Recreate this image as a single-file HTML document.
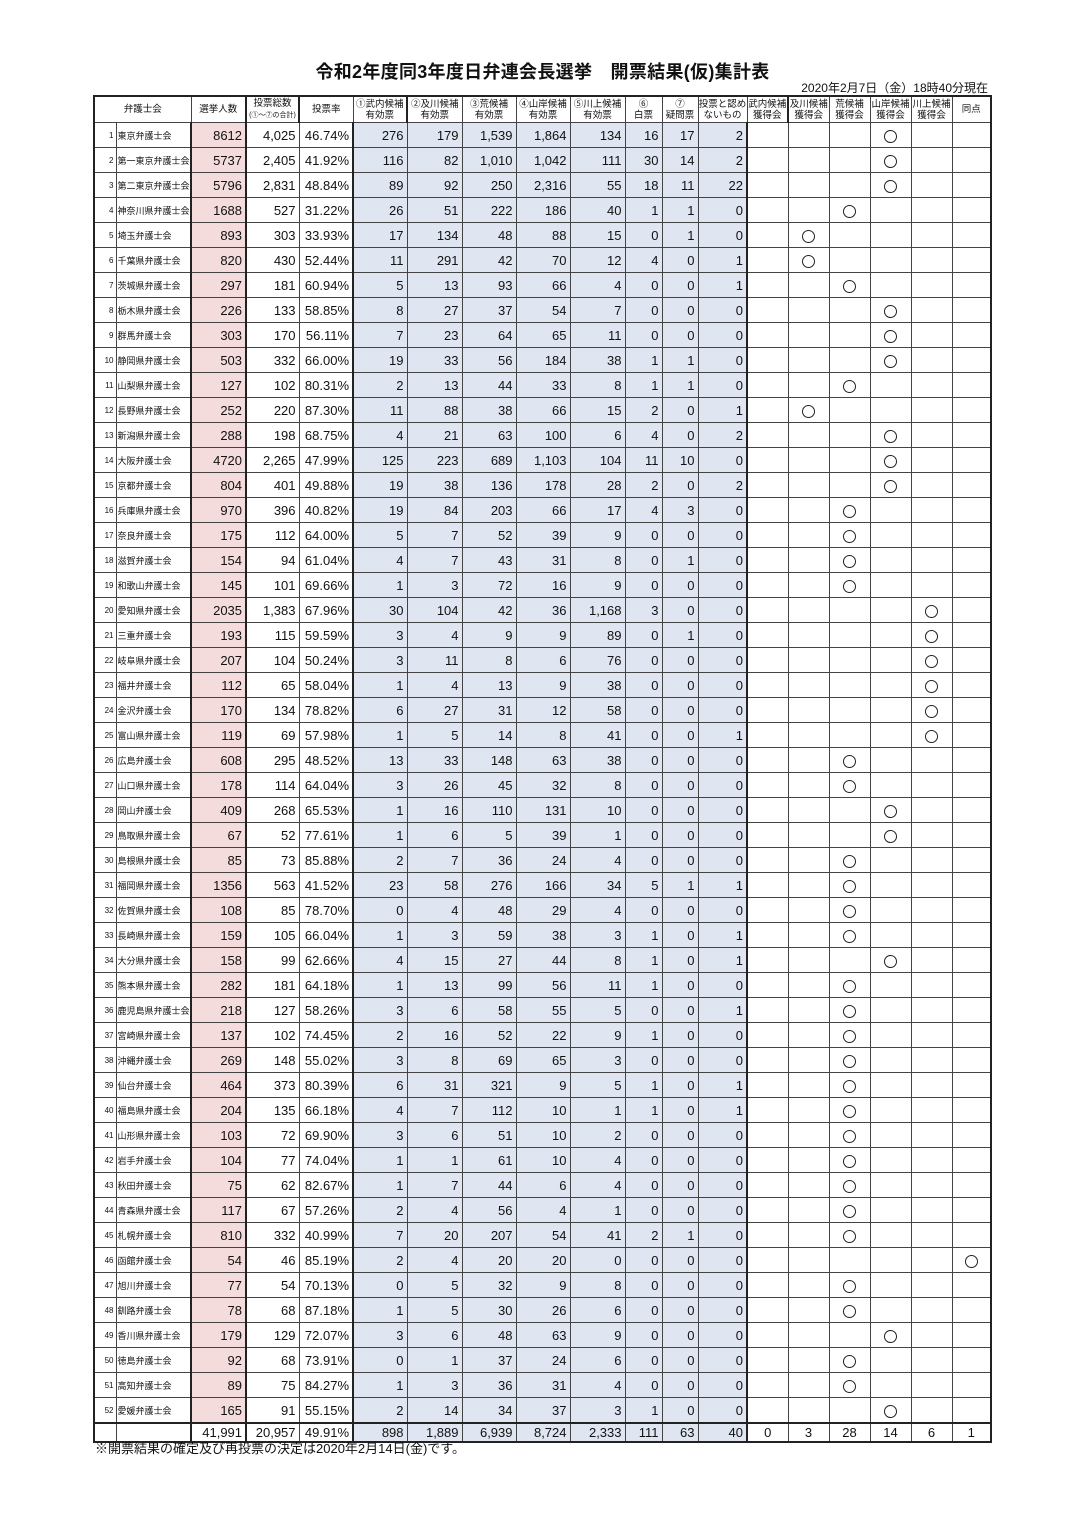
<!DOCTYPE html>
<html><head><meta charset="utf-8">
<style>
body{margin:0;background:#fff;width:1085px;height:1536px;position:relative;font-family:"Liberation Sans","Noto Sans CJK JP",sans-serif;color:#111;}
.title{position:absolute;left:0;width:1085px;top:58px;text-align:center;font-size:18px;font-weight:bold;letter-spacing:0.3px;}
.date{position:absolute;right:97px;top:79px;font-size:12px;}
.foot{position:absolute;left:95px;top:1438px;font-size:13px;}
table{position:absolute;left:93px;top:95px;border-collapse:collapse;table-layout:fixed;width:898px;border:2px solid #222;}
td{border:1px solid #444;height:24px;padding:0 3px;font-size:13px;text-align:right;white-space:nowrap;overflow:hidden;}
tr.h td{height:25px;font-size:9.5px;text-align:center;line-height:11px;padding:0;}
td:nth-child(1){font-size:8px;padding:0 2px 0 0;border-right:none;}
td:nth-child(2){font-size:9px;text-align:left;padding-left:1px;}
tr.h td:nth-child(1){text-align:center;font-size:9.5px;}
td:nth-child(3){background:#f4dcdc;border-left:2px solid #222;border-right:2px solid #222;}
td:nth-child(5){border-right:2px solid #222;}
td:nth-child(n+6):nth-child(-n+13){background:#dfe5f1;}
td:nth-child(13){border-right:2px solid #222;}
td:nth-child(n+14){text-align:center;}
tr.h td{background:#fff !important;}
tr.t td{height:17px;background:#fff;}
i{display:inline-block;width:11px;height:11px;border:1.4px solid #222;border-radius:50%;vertical-align:middle;}
</style></head><body>
<div class="title">令和2年度同3年度日弁連会長選挙　開票結果(仮)集計表</div>
<div class="date">2020年2月7日（金）18時40分現在</div>
<table>
<colgroup><col style="width:22px"><col style="width:75px"><col style="width:55px"><col style="width:53px"><col style="width:54px"><col style="width:54px"><col style="width:55px"><col style="width:54px"><col style="width:54px"><col style="width:55px"><col style="width:37px"><col style="width:36px"><col style="width:49px"><col style="width:41px"><col style="width:41px"><col style="width:41px"><col style="width:41px"><col style="width:41px"><col style="width:39px"></colgroup>
<tr class="h"><td colspan="2" style="text-align:center;border-right:1px solid #444">弁護士会</td><td>選挙人数</td><td>投票総数<br><span style="font-size:7px">(①～⑦の合計)</span></td><td>投票率</td><td>①武内候補<br>有効票</td><td>②及川候補<br>有効票</td><td>③荒候補<br>有効票</td><td>④山岸候補<br>有効票</td><td>⑤川上候補<br>有効票</td><td>⑥<br>白票</td><td>⑦<br>疑問票</td><td>投票と認め<br>ないもの</td><td>武内候補<br>獲得会</td><td>及川候補<br>獲得会</td><td>荒候補<br>獲得会</td><td>山岸候補<br>獲得会</td><td>川上候補<br>獲得会</td><td>同点</td></tr>
<tr><td>1<td>東京弁護士会<td>8612<td>4,025<td>46.74%<td>276<td>179<td>1,539<td>1,864<td>134<td>16<td>17<td>2<td><td><td><td><i></i><td><td></tr>
<tr><td>2<td>第一東京弁護士会<td>5737<td>2,405<td>41.92%<td>116<td>82<td>1,010<td>1,042<td>111<td>30<td>14<td>2<td><td><td><td><i></i><td><td></tr>
<tr><td>3<td>第二東京弁護士会<td>5796<td>2,831<td>48.84%<td>89<td>92<td>250<td>2,316<td>55<td>18<td>11<td>22<td><td><td><td><i></i><td><td></tr>
<tr><td>4<td>神奈川県弁護士会<td>1688<td>527<td>31.22%<td>26<td>51<td>222<td>186<td>40<td>1<td>1<td>0<td><td><td><i></i><td><td><td></tr>
<tr><td>5<td>埼玉弁護士会<td>893<td>303<td>33.93%<td>17<td>134<td>48<td>88<td>15<td>0<td>1<td>0<td><td><i></i><td><td><td><td></tr>
<tr><td>6<td>千葉県弁護士会<td>820<td>430<td>52.44%<td>11<td>291<td>42<td>70<td>12<td>4<td>0<td>1<td><td><i></i><td><td><td><td></tr>
<tr><td>7<td>茨城県弁護士会<td>297<td>181<td>60.94%<td>5<td>13<td>93<td>66<td>4<td>0<td>0<td>1<td><td><td><i></i><td><td><td></tr>
<tr><td>8<td>栃木県弁護士会<td>226<td>133<td>58.85%<td>8<td>27<td>37<td>54<td>7<td>0<td>0<td>0<td><td><td><td><i></i><td><td></tr>
<tr><td>9<td>群馬弁護士会<td>303<td>170<td>56.11%<td>7<td>23<td>64<td>65<td>11<td>0<td>0<td>0<td><td><td><td><i></i><td><td></tr>
<tr><td>10<td>静岡県弁護士会<td>503<td>332<td>66.00%<td>19<td>33<td>56<td>184<td>38<td>1<td>1<td>0<td><td><td><td><i></i><td><td></tr>
<tr><td>11<td>山梨県弁護士会<td>127<td>102<td>80.31%<td>2<td>13<td>44<td>33<td>8<td>1<td>1<td>0<td><td><td><i></i><td><td><td></tr>
<tr><td>12<td>長野県弁護士会<td>252<td>220<td>87.30%<td>11<td>88<td>38<td>66<td>15<td>2<td>0<td>1<td><td><i></i><td><td><td><td></tr>
<tr><td>13<td>新潟県弁護士会<td>288<td>198<td>68.75%<td>4<td>21<td>63<td>100<td>6<td>4<td>0<td>2<td><td><td><td><i></i><td><td></tr>
<tr><td>14<td>大阪弁護士会<td>4720<td>2,265<td>47.99%<td>125<td>223<td>689<td>1,103<td>104<td>11<td>10<td>0<td><td><td><td><i></i><td><td></tr>
<tr><td>15<td>京都弁護士会<td>804<td>401<td>49.88%<td>19<td>38<td>136<td>178<td>28<td>2<td>0<td>2<td><td><td><td><i></i><td><td></tr>
<tr><td>16<td>兵庫県弁護士会<td>970<td>396<td>40.82%<td>19<td>84<td>203<td>66<td>17<td>4<td>3<td>0<td><td><td><i></i><td><td><td></tr>
<tr><td>17<td>奈良弁護士会<td>175<td>112<td>64.00%<td>5<td>7<td>52<td>39<td>9<td>0<td>0<td>0<td><td><td><i></i><td><td><td></tr>
<tr><td>18<td>滋賀弁護士会<td>154<td>94<td>61.04%<td>4<td>7<td>43<td>31<td>8<td>0<td>1<td>0<td><td><td><i></i><td><td><td></tr>
<tr><td>19<td>和歌山弁護士会<td>145<td>101<td>69.66%<td>1<td>3<td>72<td>16<td>9<td>0<td>0<td>0<td><td><td><i></i><td><td><td></tr>
<tr><td>20<td>愛知県弁護士会<td>2035<td>1,383<td>67.96%<td>30<td>104<td>42<td>36<td>1,168<td>3<td>0<td>0<td><td><td><td><td><i></i><td></tr>
<tr><td>21<td>三重弁護士会<td>193<td>115<td>59.59%<td>3<td>4<td>9<td>9<td>89<td>0<td>1<td>0<td><td><td><td><td><i></i><td></tr>
<tr><td>22<td>岐阜県弁護士会<td>207<td>104<td>50.24%<td>3<td>11<td>8<td>6<td>76<td>0<td>0<td>0<td><td><td><td><td><i></i><td></tr>
<tr><td>23<td>福井弁護士会<td>112<td>65<td>58.04%<td>1<td>4<td>13<td>9<td>38<td>0<td>0<td>0<td><td><td><td><td><i></i><td></tr>
<tr><td>24<td>金沢弁護士会<td>170<td>134<td>78.82%<td>6<td>27<td>31<td>12<td>58<td>0<td>0<td>0<td><td><td><td><td><i></i><td></tr>
<tr><td>25<td>富山県弁護士会<td>119<td>69<td>57.98%<td>1<td>5<td>14<td>8<td>41<td>0<td>0<td>1<td><td><td><td><td><i></i><td></tr>
<tr><td>26<td>広島弁護士会<td>608<td>295<td>48.52%<td>13<td>33<td>148<td>63<td>38<td>0<td>0<td>0<td><td><td><i></i><td><td><td></tr>
<tr><td>27<td>山口県弁護士会<td>178<td>114<td>64.04%<td>3<td>26<td>45<td>32<td>8<td>0<td>0<td>0<td><td><td><i></i><td><td><td></tr>
<tr><td>28<td>岡山弁護士会<td>409<td>268<td>65.53%<td>1<td>16<td>110<td>131<td>10<td>0<td>0<td>0<td><td><td><td><i></i><td><td></tr>
<tr><td>29<td>鳥取県弁護士会<td>67<td>52<td>77.61%<td>1<td>6<td>5<td>39<td>1<td>0<td>0<td>0<td><td><td><td><i></i><td><td></tr>
<tr><td>30<td>島根県弁護士会<td>85<td>73<td>85.88%<td>2<td>7<td>36<td>24<td>4<td>0<td>0<td>0<td><td><td><i></i><td><td><td></tr>
<tr><td>31<td>福岡県弁護士会<td>1356<td>563<td>41.52%<td>23<td>58<td>276<td>166<td>34<td>5<td>1<td>1<td><td><td><i></i><td><td><td></tr>
<tr><td>32<td>佐賀県弁護士会<td>108<td>85<td>78.70%<td>0<td>4<td>48<td>29<td>4<td>0<td>0<td>0<td><td><td><i></i><td><td><td></tr>
<tr><td>33<td>長崎県弁護士会<td>159<td>105<td>66.04%<td>1<td>3<td>59<td>38<td>3<td>1<td>0<td>1<td><td><td><i></i><td><td><td></tr>
<tr><td>34<td>大分県弁護士会<td>158<td>99<td>62.66%<td>4<td>15<td>27<td>44<td>8<td>1<td>0<td>1<td><td><td><td><i></i><td><td></tr>
<tr><td>35<td>熊本県弁護士会<td>282<td>181<td>64.18%<td>1<td>13<td>99<td>56<td>11<td>1<td>0<td>0<td><td><td><i></i><td><td><td></tr>
<tr><td>36<td>鹿児島県弁護士会<td>218<td>127<td>58.26%<td>3<td>6<td>58<td>55<td>5<td>0<td>0<td>1<td><td><td><i></i><td><td><td></tr>
<tr><td>37<td>宮崎県弁護士会<td>137<td>102<td>74.45%<td>2<td>16<td>52<td>22<td>9<td>1<td>0<td>0<td><td><td><i></i><td><td><td></tr>
<tr><td>38<td>沖縄弁護士会<td>269<td>148<td>55.02%<td>3<td>8<td>69<td>65<td>3<td>0<td>0<td>0<td><td><td><i></i><td><td><td></tr>
<tr><td>39<td>仙台弁護士会<td>464<td>373<td>80.39%<td>6<td>31<td>321<td>9<td>5<td>1<td>0<td>1<td><td><td><i></i><td><td><td></tr>
<tr><td>40<td>福島県弁護士会<td>204<td>135<td>66.18%<td>4<td>7<td>112<td>10<td>1<td>1<td>0<td>1<td><td><td><i></i><td><td><td></tr>
<tr><td>41<td>山形県弁護士会<td>103<td>72<td>69.90%<td>3<td>6<td>51<td>10<td>2<td>0<td>0<td>0<td><td><td><i></i><td><td><td></tr>
<tr><td>42<td>岩手弁護士会<td>104<td>77<td>74.04%<td>1<td>1<td>61<td>10<td>4<td>0<td>0<td>0<td><td><td><i></i><td><td><td></tr>
<tr><td>43<td>秋田弁護士会<td>75<td>62<td>82.67%<td>1<td>7<td>44<td>6<td>4<td>0<td>0<td>0<td><td><td><i></i><td><td><td></tr>
<tr><td>44<td>青森県弁護士会<td>117<td>67<td>57.26%<td>2<td>4<td>56<td>4<td>1<td>0<td>0<td>0<td><td><td><i></i><td><td><td></tr>
<tr><td>45<td>札幌弁護士会<td>810<td>332<td>40.99%<td>7<td>20<td>207<td>54<td>41<td>2<td>1<td>0<td><td><td><i></i><td><td><td></tr>
<tr><td>46<td>函館弁護士会<td>54<td>46<td>85.19%<td>2<td>4<td>20<td>20<td>0<td>0<td>0<td>0<td><td><td><td><td><td><i></i></tr>
<tr><td>47<td>旭川弁護士会<td>77<td>54<td>70.13%<td>0<td>5<td>32<td>9<td>8<td>0<td>0<td>0<td><td><td><i></i><td><td><td></tr>
<tr><td>48<td>釧路弁護士会<td>78<td>68<td>87.18%<td>1<td>5<td>30<td>26<td>6<td>0<td>0<td>0<td><td><td><i></i><td><td><td></tr>
<tr><td>49<td>香川県弁護士会<td>179<td>129<td>72.07%<td>3<td>6<td>48<td>63<td>9<td>0<td>0<td>0<td><td><td><td><i></i><td><td></tr>
<tr><td>50<td>徳島弁護士会<td>92<td>68<td>73.91%<td>0<td>1<td>37<td>24<td>6<td>0<td>0<td>0<td><td><td><i></i><td><td><td></tr>
<tr><td>51<td>高知弁護士会<td>89<td>75<td>84.27%<td>1<td>3<td>36<td>31<td>4<td>0<td>0<td>0<td><td><td><i></i><td><td><td></tr>
<tr><td>52<td>愛媛弁護士会<td>165<td>91<td>55.15%<td>2<td>14<td>34<td>37<td>3<td>1<td>0<td>0<td><td><td><td><i></i><td><td></tr>
<tr class="t" style="border-top:2px solid #222"><td><td><td>41,991<td>20,957<td>49.91%<td>898<td>1,889<td>6,939<td>8,724<td>2,333<td>111<td>63<td>40<td>0<td>3<td>28<td>14<td>6<td>1</tr>
</table>
<div class="foot">※開票結果の確定及び再投票の決定は2020年2月14日(金)です。</div>
</body></html>
